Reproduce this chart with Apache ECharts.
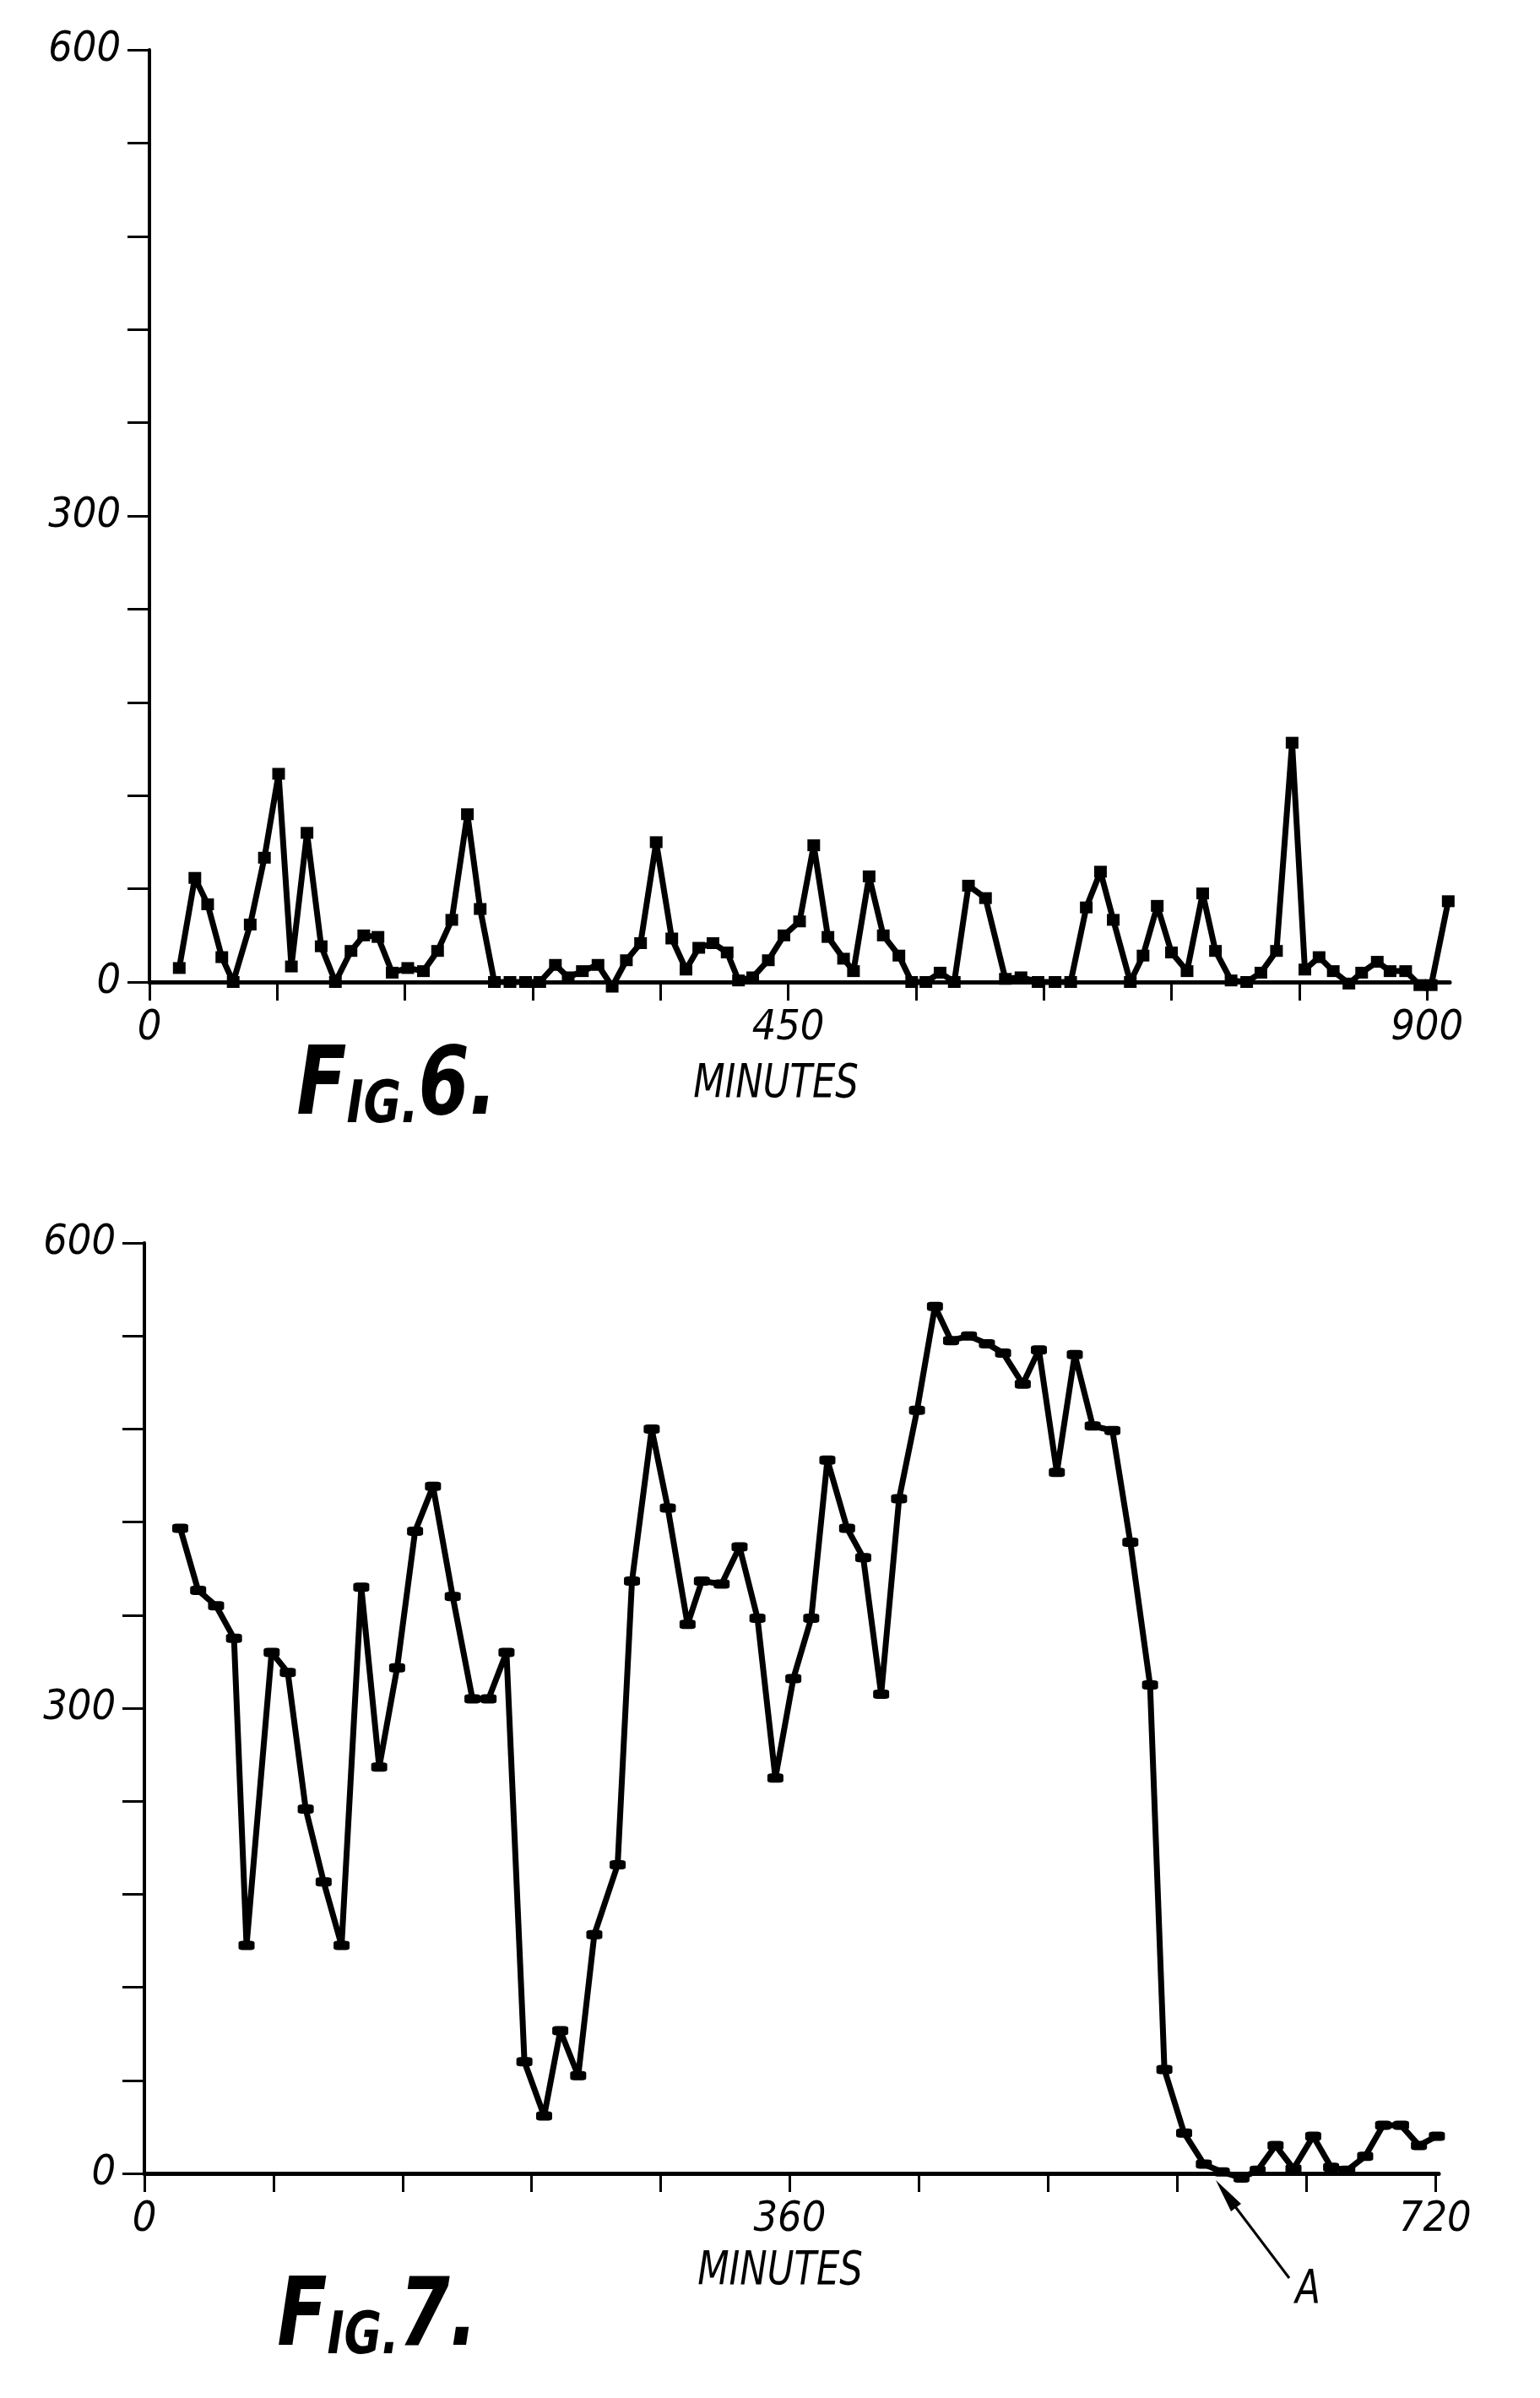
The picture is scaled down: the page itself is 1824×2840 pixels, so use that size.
<!DOCTYPE html>
<html>
<head>
<meta charset="utf-8">
<script src="https://cdn.jsdelivr.net/npm/echarts@6/dist/echarts.min.js"></script>
<style>
html,body{margin:0;padding:0;background:#fff;}
#c{width:1824px;height:2840px;}
</style>
</head>
<body>
<div id="c"></div>
<script>
// ---- Fig. 6 data (minutes, value) ----
const fig6Minutes = [21,32,41,51,59,71,81,91,100,111,121,131,142,151,161,171,182,193,203,213,224,233,243,254,265,275,286,295,305,316,326,336,346,357,368,378,387,397,407,415,425,436,447,458,468,478,489,496,507,517,528,537,547,557,567,577,589,603,614,626,638,649,660,670,679,691,700,710,720,731,742,751,762,773,783,794,805,814,824,834,845,854,865,874,885,895,903,915];
const fig6Values  = [9,67,50,16,0,37,80,134,10,96,23,0,20,30,29,6,9,7,20,40,108,47,0,0,0,0,11,3,7,11,-3,14,25,90,28,8,22,25,19,1,3,14,30,39,88,29,15,7,68,30,17,0,0,6,0,62,54,2,3,0,0,0,48,71,40,0,17,49,19,7,57,20,1,0,6,20,154,8,16,7,-1,6,13,7,7,-2,-2,52];

// ---- Fig. 7 data (minutes, value) ----
const fig7Minutes = [20,30,40,50,57,71,80,90,100,110,121,131,141,151,161,172,183,192,202,212,223,232,242,251,264,272,283,292,303,311,322,332,342,352,362,372,381,392,401,411,421,431,441,450,460,470,479,490,499,509,519,529,540,550,561,569,580,591,601,612,621,631,641,652,662,671,681,691,701,711,721];
const fig7Values  = [416,376,366,345,147,336,323,235,188,147,378,262,326,414,443,372,306,306,336,72,37,92,63,154,199,382,480,429,354,382,380,404,358,255,319,358,460,416,397,309,435,492,559,537,540,535,529,509,531,452,528,482,479,407,315,67,26,6,1,-3,2,18,3,24,4,2,11,31,31,18,24];

// ---- ticks and tick labels ----
const fig6XTicks  = [0,90,180,270,360,450,540,630,720,810,900];
const fig6XLabels = [0, 450, 900];
const fig7XTicks  = [0,72,144,216,288,360,432,504,576,648,720];
const fig7XLabels = [0, 360, 720];
const yTicks  = [0,60,120,180,240,300,360,420,480,540,600];
const yLabels = [0, 300, 600];

const FONT = "'Liberation Sans Narrow', 'DejaVu Sans Condensed', 'DejaVu Sans', sans-serif";

function pairs(xs, ys){ return xs.map((x,i)=>[x, ys[i]]); }

function xAxisCfg(idx, max, interval, ticks, labels){
  return {
    gridIndex: idx, type: 'value', min: 0, max: max, interval: interval,
    axisLine: {show: true, onZero: false, lineStyle: {color: '#000', width: 5}},
    axisTick: {show: true, inside: false, length: 22, customValues: ticks, lineStyle: {color: '#000', width: 3}},
    splitLine: {show: false},
    axisLabel: {
      show: true, margin: 30, color: '#000', fontSize: 50, fontStyle: 'italic', fontFamily: FONT,
      customValues: labels, hideOverlap: false
    }
  };
}
function yAxisCfg(idx){
  return {
    gridIndex: idx, type: 'value', min: 0, max: 600, interval: 60,
    axisLine: {show: true, lineStyle: {color: '#000', width: 4}},
    axisTick: {show: true, inside: false, length: 26, customValues: yTicks, lineStyle: {color: '#000', width: 3}},
    splitLine: {show: false},
    axisLabel: {
      show: true, margin: 34, color: '#000', fontSize: 50, fontStyle: 'italic', fontFamily: FONT,
      customValues: yLabels
    }
  };
}

const chart = echarts.init(document.getElementById('c'), null, {renderer: 'canvas', width: 1824, height: 2840});

const txt = (text, x, y, size, sx) => ({
  type: 'text', x: x, y: y, scaleX: sx || 1, silent: true,
  style: {
    text: text, fill: '#000', font: 'italic ' + size + 'px ' + FONT,
    align: 'center', verticalAlign: 'middle'
  }
});

const figLabel = (num, x, y) => ({
  type: 'text', x: x, y: y, scaleX: 0.86, silent: true,
  style: {
    text: '{a|F}{b|IG.}{a|' + num + '.}',
    align: 'center', verticalAlign: 'middle',
    rich: {
      a: {fontSize: 112, fontWeight: 'bold', fontStyle: 'italic', fontFamily: FONT, fill: '#000', verticalAlign: 'bottom', lineHeight: 112},
      b: {fontSize: 70, fontWeight: 'bold', fontStyle: 'italic', fontFamily: FONT, fill: '#000', verticalAlign: 'bottom', lineHeight: 112}
    }
  }
});

chart.setOption({
  backgroundColor: '#fff',
  animation: false,
  grid: [
    // 0..900 min spans 177..1690 px; axis runs a little past 900 to 916
    {left: 177, top: 59, width: 1540, height: 1104},
    // 0..720 min spans 171..1700 px; axis runs to 722
    {left: 171, top: 1472, width: 1533, height: 1102}
  ],
  xAxis: [xAxisCfg(0, 916, 4, fig6XTicks, fig6XLabels), xAxisCfg(1, 722, 2, fig7XTicks, fig7XLabels)],
  yAxis: [yAxisCfg(0), yAxisCfg(1)],
  series: [
    {
      type: 'line', xAxisIndex: 0, yAxisIndex: 0, clip: false,
      data: pairs(fig6Minutes, fig6Values),
      symbol: 'rect', symbolSize: [15, 14], showAllSymbol: true,
      lineStyle: {color: '#000', width: 7},
      itemStyle: {color: '#000', borderWidth: 0}
    },
    {
      type: 'line', xAxisIndex: 1, yAxisIndex: 1, clip: false,
      data: pairs(fig7Minutes, fig7Values),
      symbol: 'roundRect', symbolSize: [19, 11], showAllSymbol: true,
      lineStyle: {color: '#000', width: 7},
      itemStyle: {color: '#000', borderWidth: 0}
    }
  ],
  graphic: [
    figLabel(6, 470, 1290),
    txt('MINUTES', 919, 1284, 56, 0.86),
    figLabel(7, 447, 2748),
    txt('MINUTES', 924, 2690, 56, 0.86),
    txt('A', 1549, 2712, 56, 0.86),
    {type: 'line', silent: true, shape: {x1: 1527, y1: 2698, x2: 1462, y2: 2612}, style: {stroke: '#000', lineWidth: 3}},
    {type: 'polygon', silent: true, shape: {points: [[1440, 2582], [1470, 2610], [1458, 2619]]}, style: {fill: '#000'}}
  ]
});
</script>
</body>
</html>
